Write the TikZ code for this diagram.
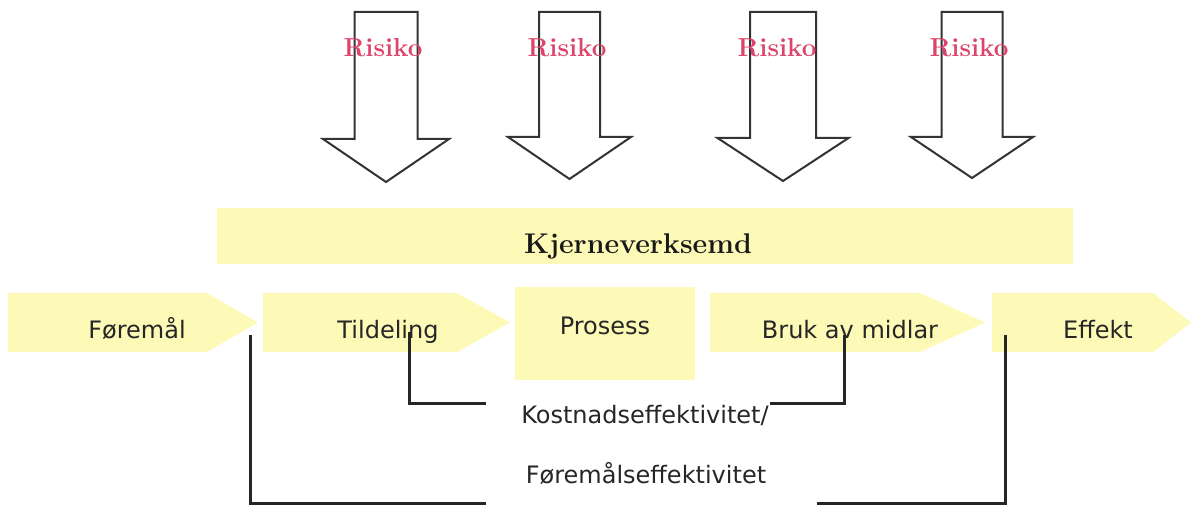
\documentclass[tikz,border=0pt]{standalone}
\usepackage{fontspec}
\newfontfamily\labelfont{DejaVu Sans}
\usetikzlibrary{positioning}
\definecolor{bandyellow}{RGB}{253,249,182}
\definecolor{risikored}{RGB}{222,68,106}

\begin{document}
\begin{tikzpicture}[x=1pt,y=-1pt,
    riskarrow/.style={draw=black!80, line width=2pt, fill=white},
    risklabel/.style={text=risikored, font=\fontsize{26}{30}\selectfont\bfseries, anchor=base, inner sep=0pt},
    band/.style={fill=bandyellow},
    steptext/.style={font=\fontsize{24}{28}\labelfont, text=black!85, anchor=base, inner sep=0pt},
    coretext/.style={font=\fontsize{28.5}{32}\selectfont\bfseries, text=black!90, anchor=base, inner sep=0pt},
    bracket/.style={draw=black!85, line width=3pt}]
  \useasboundingbox (0,0) rectangle (1191,505);
  % risk arrows from above
  \foreach \i/\c/\w/\h/\s/\t/\lx in {1/386/31.5/63/139/182/383, 2/569.5/30.5/61.5/137/179/567,
      3/783/33/65.5/138/181/777, 4/972/30.5/61/137/178/969} {
    \draw[riskarrow] (\c-\w,12) -- (\c+\w,12) -- (\c+\w,\s) -- (\c+\h,\s) -- (\c,\t)
      -- (\c-\h,\s) -- (\c-\w,\s) -- cycle;
    \node[risklabel] (r\i) at (\lx,57) {Risiko};
  }
  % core band
  \fill[band] (217,208) rectangle (1073,264);
  \node[coretext] (kjerne) at (638,253) {Kjerneverksemd};
  % value chain
  \foreach \xl/\xs/\xt in {8/207/258, 263/457/510, 710/920/985, 992/1153/1191}
    \fill[band] (\xl,293) -- (\xs,293) -- (\xt,322.5) -- (\xs,352) -- (\xl,352) -- cycle;
  \fill[band] (515,287) rectangle (695,380);
  \node[steptext] (fore) at (137,338) {Føremål};
  \node[steptext] (tild) at (388,338) {Tildeling};
  \node[steptext] (pros) at (605,334) {Prosess};
  \node[steptext] (bruk) at (850,338) {Bruk av midlar};
  \node[steptext] (eff)  at (1098,338) {Effekt};
  \node[steptext] (kost) at (645,423) {Kostnadseffektivitet/};
  \node[steptext] (fmal) at (646,483) {Føremålseffektivitet};
  % brackets
  \coordinate (kL) at (409,332);  \coordinate (kLe) at (486,403);
  \coordinate (kR) at (844,335);  \coordinate (kRe) at (770,403);
  \coordinate (fL) at (250,335);  \coordinate (fLe) at (486,503);
  \coordinate (fR) at (1005,335); \coordinate (fRe) at (817,503);
  \draw[bracket] (kL) |- (kLe);
  \draw[bracket] (kR) |- (kRe);
  \draw[bracket] (fL) |- (fLe);
  \draw[bracket] (fR) |- (fRe);
\end{tikzpicture}
\end{document}
